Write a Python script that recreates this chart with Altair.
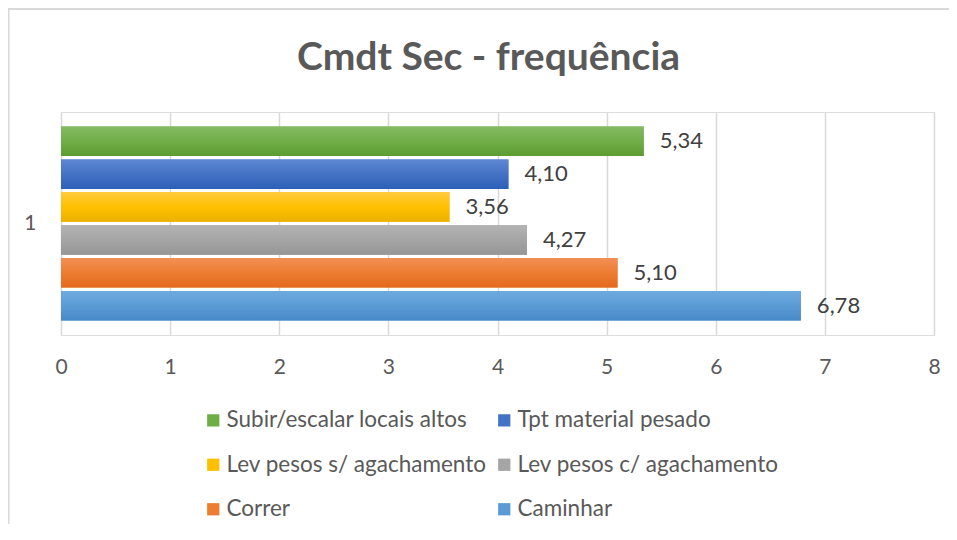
import altair as alt
import pandas as pd

series = ["Subir/escalar locais altos", "Tpt material pesado", "Lev pesos s/ agachamento",
          "Lev pesos c/ agachamento", "Correr", "Caminhar"]
values = [5.34, 4.10, 3.56, 4.27, 5.10, 6.78]
group = ["1"] * 6
base_colors = ["#70AD47", "#4472C4", "#FFC000", "#A5A5A5", "#ED7D31", "#5B9BD5"]
top_colors = ["#84bb64", "#5f87d3", "#ffca3c", "#b3b3b3", "#f28f55", "#6eaadf"]
bottom_colors = ["#5c9c30", "#2e5fb8", "#e9b100", "#969696", "#e3691d", "#4789c8"]
x_ticks = [0, 1, 2, 3, 4, 5, 6, 7, 8]

df = pd.DataFrame({
    "grp": group,
    "series": series,
    "value": values,
    "label": [f"{v:.2f}".replace(".", ",") for v in values],
})

FONT = "Lato"
TXT = "#595959"

x_enc = alt.X("value:Q", scale=alt.Scale(domain=[0, 8], nice=False),
              axis=alt.Axis(values=x_ticks, format="d", title=None, grid=True,
                            gridColor="#d9d9d9", gridWidth=1.5, domain=False, ticks=False,
                            labelPadding=21, labelFlush=False, labelFontSize=21,
                            labelColor=TXT, labelFont=FONT))
y_enc = alt.Y("grp:N", scale=alt.Scale(paddingInner=0, paddingOuter=0.075),
              axis=alt.Axis(title=None, domain=False, ticks=False, grid=False,
                            labelPadding=25, labelFontSize=21, labelColor=TXT,
                            labelFont=FONT))
yoff = alt.YOffset("series:N", sort=series,
                   scale=alt.Scale(paddingInner=0.1, paddingOuter=0))

base = alt.Chart(df)

bars = base.mark_bar().encode(
    x=x_enc, y=y_enc, yOffset=yoff,
    color=alt.Color("series:N", sort=series,
                    scale=alt.Scale(domain=series, range=base_colors),
                    legend=alt.Legend(title=None, orient="none", legendX=141, legendY=297,
                                      direction="horizontal", columns=2,
                                      symbolType="square", symbolSize=150,
                                      symbolStrokeWidth=0, labelFontSize=22.5,
                                      labelLimit=0, labelColor=TXT, labelFont=FONT,
                                      rowPadding=21.5, columnPadding=6, labelOffset=2)),
)

layers = [bars]
for s, c0, c1, c2 in zip(series, top_colors, base_colors, bottom_colors):
    grad = alt.Gradient(gradient="linear", x1=0, y1=0, x2=0, y2=1,
                        stops=[alt.GradientStop(color=c0, offset=0),
                               alt.GradientStop(color=c1, offset=0.5),
                               alt.GradientStop(color=c2, offset=1)])
    layers.append(
        base.transform_filter(alt.datum.series == s).mark_bar(color=grad).encode(
            x="value:Q", y="grp:N", yOffset=yoff)
    )

labels = base.mark_text(align="left", baseline="middle", dx=16, fontSize=22,
                        font=FONT, color="#404040").encode(
    x="value:Q", y="grp:N", yOffset=yoff, text="label:N")
layers.append(labels)

# light chart-area frame lines (decoration): top and left edges, as thin filled rects
frame_df = pd.DataFrame({"f": [0]})
frame_top = alt.Chart(frame_df).mark_rect(fill="#d9d9d9", strokeWidth=0).encode(
    x=alt.value(-53), x2=alt.value(888), y=alt.value(-104), y2=alt.value(-102))
frame_left = alt.Chart(frame_df).mark_rect(fill="#d9d9d9", strokeWidth=0).encode(
    x=alt.value(-53.5), x2=alt.value(-51.5), y=alt.value(-104), y2=alt.value(412))
layers += [frame_top, frame_left]

chart = alt.layer(*layers).properties(
    width=873, height=223,
    title=alt.Title("Cmdt Sec - frequência", fontSize=39, font=FONT, fontWeight="bold",
                    color=TXT, anchor="middle", offset=-70, dx=-9),
    autosize=alt.AutoSizeParams(type="none"),
    padding={"left": 53, "top": 104, "right": 15, "bottom": 189},
).configure_view(strokeWidth=0).configure(background="white")

chart.save("out.html", embed_options={"renderer": "svg", "actions": False})
